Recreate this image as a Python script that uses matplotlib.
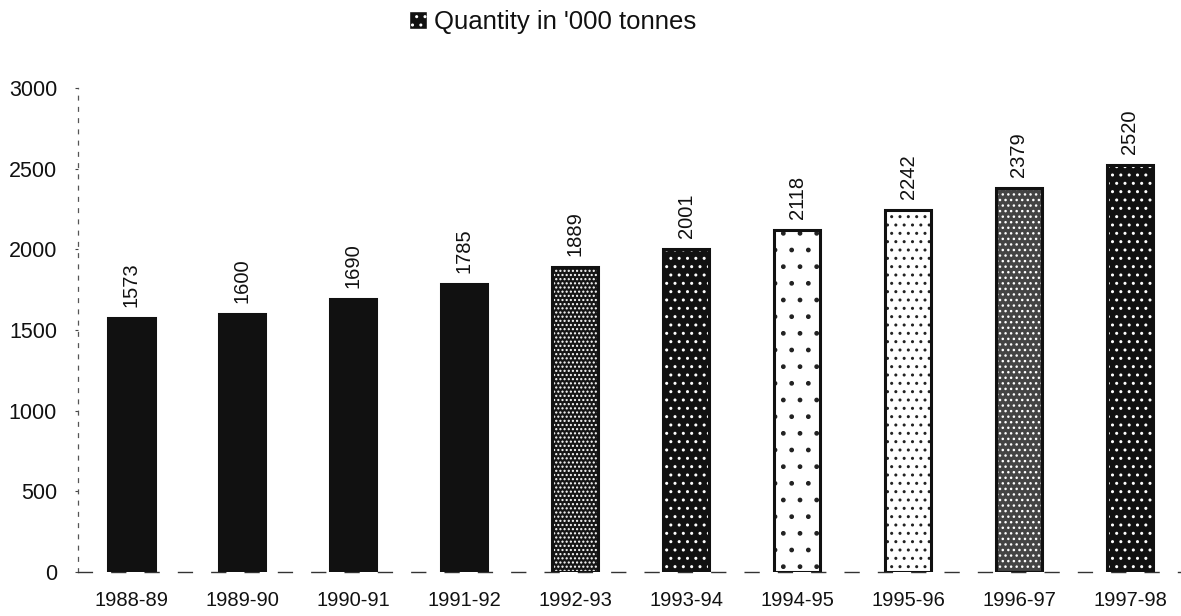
import matplotlib
matplotlib.use("Agg")  # headless
import matplotlib.pyplot as plt
from matplotlib.patches import Patch

plt.rcParams["font.family"] = ["Liberation Sans", "DejaVu Sans"]

# data
years = ["1988-89", "1989-90", "1990-91", "1991-92", "1992-93",
         "1993-94", "1994-95", "1995-96", "1996-97", "1997-98"]
quantity = [1573, 1600, 1690, 1785, 1889, 2001, 2118, 2242, 2379, 2520]
y_ticks = [0, 500, 1000, 1500, 2000, 2500, 3000]
legend_label = "Quantity in '000 tonnes"

# scanned-texture look: fill colour, hatch colour, hatch pattern per bar
fills = ["#111111"] * 4 + ["#151515", "#111111", "white", "white", "#444444", "#111111"]
hatch_cols = ["#111111"] * 4 + ["white", "white", "#222222", "#222222", "white", "white"]
hatches = [None] * 4 + ["....", "..", ".", "..", "...", ".."]

fig = plt.figure(figsize=(11.81, 6.16), dpi=100)
ax = fig.add_axes([0.066, 0.0714, 0.934, 0.7857])

x = range(len(years))
width = 0.42
for i, q in enumerate(quantity):
    ax.bar(i, q, width=width, color=fills[i], edgecolor=hatch_cols[i],
           hatch=hatches[i], linewidth=0, zorder=2)
# outlines on top
ax.bar(x, quantity, width=width, fill=False, edgecolor="#111111",
       linewidth=2.2, zorder=3)

for i, q in enumerate(quantity):
    ax.annotate(str(q), (i, q), xytext=(0, 8), textcoords="offset points",
                rotation=90, ha="center", va="bottom", fontsize=14.5,
                color="#111111", annotation_clip=False)

ax.set_xlim(-0.48, 9.46)
ax.set_ylim(0, 3000)
ax.set_yticks(y_ticks)
ax.set_yticklabels([str(t) for t in y_ticks], fontsize=15.5)
ax.set_xticks(list(x))
ax.set_xticklabels(years, fontsize=14.5)
ax.tick_params(axis="x", length=0, pad=14, colors="#111111")
ax.tick_params(axis="y", length=2, pad=13, color="#444444", labelcolor="#111111")

for s in ["top", "right"]:
    ax.spines[s].set_visible(False)
ax.spines["left"].set_linestyle((0, (3, 6)))
ax.spines["left"].set_linewidth(0.9)
ax.spines["left"].set_color("#555555")
ax.spines["bottom"].set_linestyle((0, (10, 14)))
ax.spines["bottom"].set_linewidth(1.0)
ax.spines["bottom"].set_color("#333333")

handle = Patch(facecolor="#111111", edgecolor="white", hatch="..")
fig.legend([handle], [legend_label], loc="center",
           bbox_to_anchor=(0.468, 0.965), frameon=False, fontsize=18.5,
           handlelength=0.7, handleheight=0.7, handletextpad=0.3,
           labelcolor="#111111")

fig.savefig("out.png", dpi=100)
